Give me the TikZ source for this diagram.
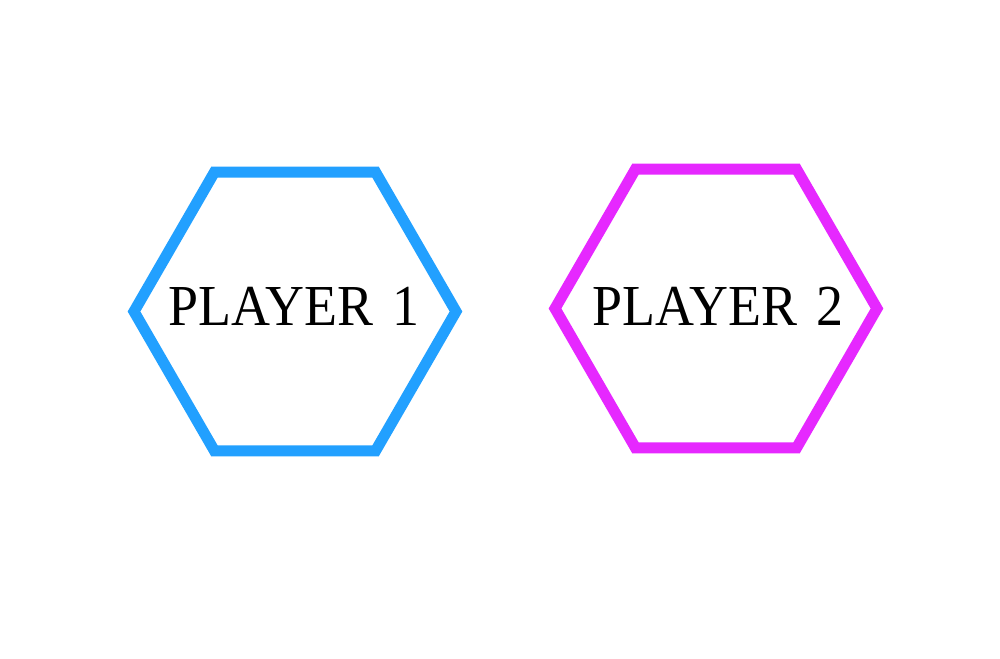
\documentclass[tikz,border=0pt]{standalone}
\usepackage{fontspec}
\setmainfont{Liberation Serif}
\definecolor{pblue}{RGB}{34,160,255}
\definecolor{ppink}{RGB}{230,40,255}
\tikzset{
  hexa/.style={line width=11pt, line join=miter},
  label/.style={font=\fontsize{58}{60}\selectfont, xscale=0.93, inner sep=0pt, anchor=base}
}
\begin{document}
\begin{tikzpicture}[x=1pt,y=-1pt]
\useasboundingbox (0,0) rectangle (1000,658);
\fill[white] (0,0) rectangle (1000,658);
% blue hexagon, centre (295,311.5), R=161
\draw[hexa, pblue] (295,311.5) ++(0:161) -- ++(120:161) -- ++(180:161) -- ++(240:161) -- ++(300:161) -- ++(0:161) -- cycle;
\node[label] (p1) at (294,325) {PLAYER\hspace{0.11em} 1};
% pink hexagon, centre (716,308.5)
\draw[hexa, ppink] (716,308.5) ++(0:161) -- ++(120:161) -- ++(180:161) -- ++(240:161) -- ++(300:161) -- ++(0:161) -- cycle;
\node[label] (p2) at (718,325) {PLAYER\hspace{0.11em} 2};
\end{tikzpicture}
\end{document}
